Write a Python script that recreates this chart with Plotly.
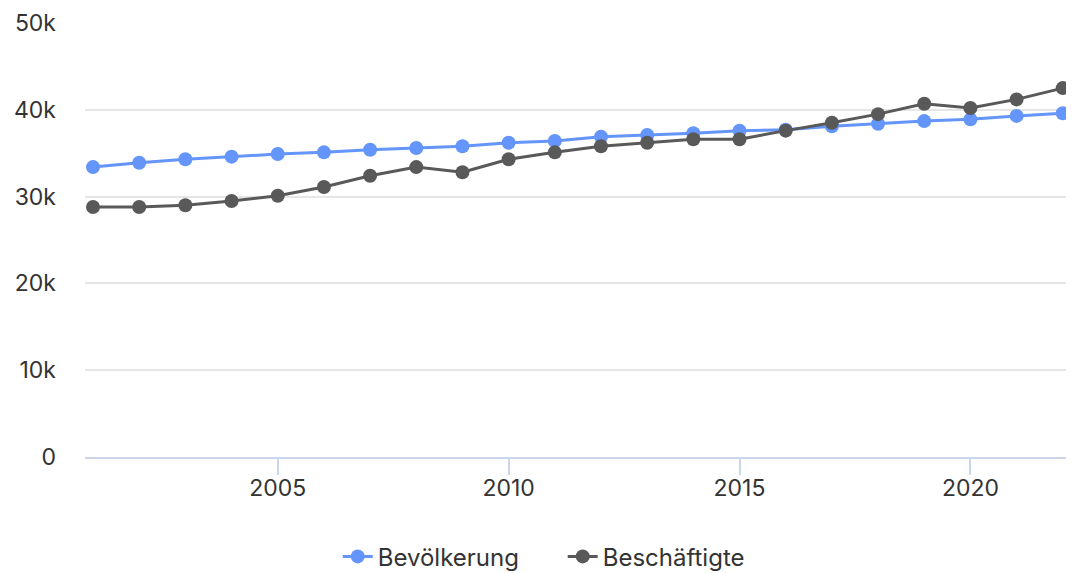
import plotly.graph_objects as go

years = list(range(2001, 2023))
bevoelkerung = [33400, 33900, 34300, 34600, 34900, 35100, 35400, 35600, 35800, 36200,
                36400, 36900, 37100, 37300, 37600, 37700, 38100, 38400, 38700, 38900,
                39300, 39600]
beschaeftigte = [28800, 28800, 29000, 29500, 30100, 31100, 32400, 33400, 32800, 34300,
                 35100, 35800, 36200, 36600, 36600, 37600, 38500, 39500, 40700, 40200,
                 41200, 42500]
y_tickvals = [0, 10000, 20000, 30000, 40000, 50000]
y_ticktext = ["0", "10k", "20k", "30k", "40k", "50k"]
x_tickvals = [2005, 2010, 2015, 2020]

FONT = "Inter, 'DejaVu Sans', sans-serif"
TXT = "#333333"

fig = go.Figure()
fig.add_trace(go.Scatter(
    x=years, y=bevoelkerung, name="Bevölkerung", mode="lines+markers",
    line=dict(color="#6495fa", width=3),
    marker=dict(color="#6495fa", size=14),
))
fig.add_trace(go.Scatter(
    x=years, y=beschaeftigte, name="Beschäftigte", mode="lines+markers",
    line=dict(color="#595959", width=3),
    marker=dict(color="#595959", size=14),
))

fig.update_layout(
    width=1066, height=585,
    margin=dict(l=77, r=2, t=15, b=136),
    plot_bgcolor="white", paper_bgcolor="white",
    font=dict(family=FONT, size=23, color=TXT),
    showlegend=True,
    legend=dict(orientation="h", x=0.484, xanchor="center",
                y=-0.23, yanchor="middle",
                font=dict(size=24, color=TXT), itemwidth=30,
                entrywidth=180, entrywidthmode="pixels"),
    xaxis=dict(
        range=[2000.826, 2022.2], tickvals=x_tickvals, showgrid=False,
        showline=True, linecolor="#ccd6eb", linewidth=1.5,
        ticks="outside", ticklen=16, tickcolor="#ccd6eb", tickwidth=1.5,
        ticklabelstandoff=-6,
        zeroline=False, tickfont=dict(size=23, color=TXT),
    ),
    yaxis=dict(
        range=[0, 50000], tickvals=y_tickvals, ticktext=y_ticktext,
        showgrid=True, gridcolor="#e6e6e6", gridwidth=1.5, zeroline=False,
        ticks="", ticklabelstandoff=28, tickfont=dict(size=23, color=TXT),
    ),
)

fig.write_html("out.html")
